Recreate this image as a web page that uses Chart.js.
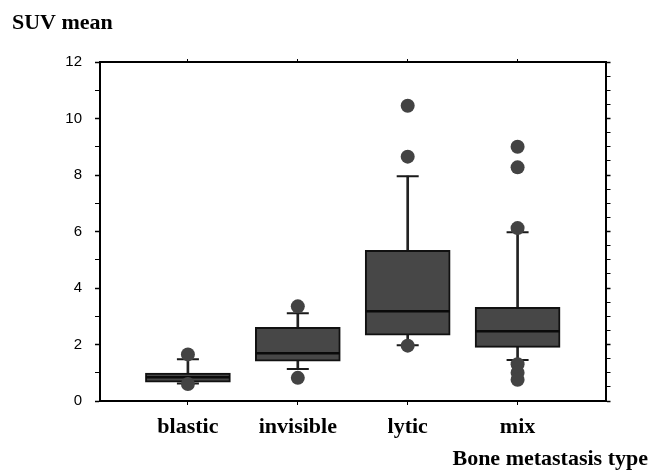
<!DOCTYPE html>
<html>
<head>
<meta charset="utf-8">
<script src="https://cdn.jsdelivr.net/npm/chart.js@4.4.1/dist/chart.umd.min.js"></script>
<style>
  html, body { margin: 0; padding: 0; background: #fff; }
  #wrap { width: 650px; height: 471px; }
</style>
</head>
<body>
<div id="wrap"><canvas id="suvChart"></canvas></div>
<script>
// SUV mean by bone metastasis type (box plot)
const categories = ['blastic', 'invisible', 'lytic', 'mix']
const whiskerLow = [0.62, 1.13, 1.97, 1.45]
const q1 = [0.67, 1.41, 2.33, 1.90]
const median = [0.84, 1.69, 3.18, 2.47]
const q3 = [0.99, 2.61, 5.33, 3.32]
const whiskerHigh = [1.48, 3.11, 7.96, 5.97]
const outliers = [
    [1.65, 0.60],
    [3.35, 0.82],
    [10.45, 8.65, 1.96],
    [9.00, 8.27, 6.12, 1.30, 1.00, 0.75]
]
const yTickLabels = [0, 2, 4, 6, 8, 10, 12]

const xPos = categories.map((c, i) => i + 1)
const serif = 'Liberation Serif, Times New Roman, serif'
const sans = 'Liberation Sans, Arial, sans-serif'

const boxData = xPos.map((x, i) => ({ x: x, y: [q1[i], q3[i]] }))
const stemData = xPos.map((x, i) => ({ x: x, y: [whiskerLow[i], whiskerHigh[i]] }))
const medianData = xPos.map((x, i) => ({ x: x, y: median[i] }))
const capData = []
xPos.forEach((x, i) => {
    capData.push({ x: x, y: whiskerLow[i] })
    capData.push({ x: x, y: whiskerHigh[i] })
})
const outlierData = []
outliers.forEach((list, i) => {
    list.forEach(v => outlierData.push({ x: xPos[i], y: v }))
})

const categoryTicks = axis => {
    axis.ticks = xPos.map(v => ({ value: v }))
}

const yAxisBase = {
    type: 'linear',
    min: 0,
    max: 12,
    border: { color: '#000', width: 2 },
    grid: {
        drawOnChartArea: false,
        tickLength: 5,
        tickColor: '#000',
        tickWidth: ctx => (ctx.tick && ctx.tick.value % 2 === 0 ? 1.5 : 1)
    }
}

new Chart('suvChart', {
    type: 'bar',
    data: {
        datasets: [
            {
                type: 'scatter',
                data: outlierData,
                pointStyle: 'circle',
                pointRadius: 7,
                backgroundColor: '#434343',
                borderWidth: 0,
                order: 0
            },
            {
                type: 'scatter',
                data: medianData,
                pointStyle: 'line',
                pointRadius: 42,
                borderColor: '#0a0a0a',
                borderWidth: 2.5,
                order: 1
            },
            {
                type: 'scatter',
                data: capData,
                pointStyle: 'line',
                pointRadius: 11,
                borderColor: '#1a1a1a',
                borderWidth: 2,
                order: 1
            },
            {
                data: boxData,
                backgroundColor: '#474747',
                borderColor: '#111',
                borderWidth: 2,
                borderSkipped: false,
                barThickness: 85,
                grouped: false,
                order: 2
            },
            {
                data: stemData,
                backgroundColor: '#222',
                borderWidth: 0,
                barThickness: 2,
                grouped: false,
                order: 3
            }
        ]
    },
    options: {
        responsive: true,
        maintainAspectRatio: false,
        animation: false,
        events: [],
        layout: { padding: { left: 12, right: 2, top: 0, bottom: 0 } },
        plugins: {
            legend: { display: false },
            tooltip: { enabled: false },
            title: {
                display: true,
                text: 'SUV mean',
                align: 'start',
                color: '#000',
                font: { family: serif, size: 22, weight: 'bold' },
                padding: { top: 10, bottom: 19.6 }
            },
            subtitle: {
                display: true,
                text: 'Bone metastasis type',
                position: 'bottom',
                align: 'end',
                color: '#000',
                font: { family: serif, size: 22, weight: 'bold', lineHeight: 1 },
                padding: { top: 0, bottom: 1 }
            }
        },
        scales: {
            x: {
                type: 'linear',
                position: 'bottom',
                offset: false,
                min: 0.2,
                max: 4.8,
                afterBuildTicks: categoryTicks,
                afterFit: axis => { axis.height = 47 },
                border: { color: '#000', width: 2 },
                grid: { offset: false, drawOnChartArea: false, tickLength: 4, tickColor: '#000' },
                ticks: {
                    padding: 9,
                    color: '#000',
                    font: { family: serif, size: 22, weight: 'bold' },
                    callback: v => categories[v - 1]
                }
            },
            x2: {
                type: 'linear',
                position: 'top',
                offset: false,
                min: 0.2,
                max: 4.8,
                afterBuildTicks: categoryTicks,
                afterFit: axis => { axis.height = 6 },
                border: { color: '#000', width: 2 },
                grid: { offset: false, drawOnChartArea: false, tickLength: 3, tickColor: '#000' },
                ticks: { display: false }
            },
            y: Object.assign({}, yAxisBase, {
                position: 'left',
                afterFit: axis => { axis.width = 88 },
                ticks: {
                    stepSize: 0.5,
                    padding: 13,
                    color: '#000',
                    font: { family: sans, size: 15 },
                    callback: v => (yTickLabels.includes(v) ? v : '')
                }
            }),
            y2: Object.assign({}, yAxisBase, {
                position: 'right',
                afterFit: axis => { axis.width = 38 },
                ticks: { stepSize: 0.5, display: false }
            })
        }
    }
})
</script>
</body>
</html>
